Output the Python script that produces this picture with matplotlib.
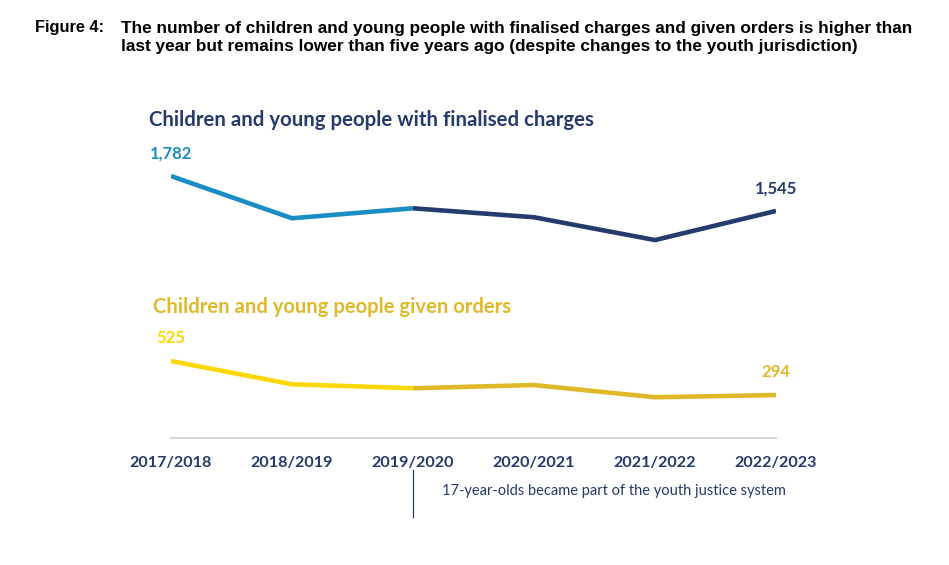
import matplotlib.pyplot as plt

years = ['2017/2018', '2018/2019', '2019/2020', '2020/2021', '2021/2022', '2022/2023']
charges = [1782, 1495, 1563, 1502, 1347, 1545]
orders = [525, 367, 340, 362, 279, 294]

W, H = 949, 565
fig = plt.figure(figsize=(W / 100, H / 100), dpi=100)

# axes placed so that x=0..5 spans 171..776 px and y=0 sits on the grey baseline
y0_px, px_per_unit = 438.3, 1 / 6.795
ymax = 2000
ax = fig.add_axes([171 / W, (H - y0_px) / H, 605 / W, ymax * px_per_unit / H])
ax.set_xlim(0, 5)
ax.set_ylim(0, ymax)

light_blue, navy = '#1a8ec4', '#253a6d'
yellow, gold = '#fdd800', '#e0b92b'
x = list(range(len(years)))

ax.plot(x[:3], charges[:3], color=light_blue, lw=3.3, solid_capstyle='butt', solid_joinstyle='round')
ax.plot(x[2:], charges[2:], color=navy, lw=3.3, solid_capstyle='butt', solid_joinstyle='round')
ax.plot(x[:3], orders[:3], color=yellow, lw=3.3, solid_capstyle='butt', solid_joinstyle='round')
ax.plot(x[2:], orders[2:], color=gold, lw=3.3, solid_capstyle='butt', solid_joinstyle='round')

for s in ['top', 'right', 'left']:
    ax.spines[s].set_visible(False)
ax.spines['bottom'].set_color('#d4d4d4')
ax.spines['bottom'].set_linewidth(1.5)
ax.set_yticks([])
ax.set_xticks(x)
ax.set_xticklabels(years, fontfamily='Lato', fontweight='bold', fontsize=11.6, color=navy)
ax.tick_params(axis='x', length=0, pad=13)

lbl = dict(fontfamily='Lato', fontweight='bold', fontsize=12)
ax.text(0, charges[0] + 100, f'{charges[0]:,}', color=light_blue, ha='center', va='bottom', **lbl)
ax.text(5, charges[-1] + 100, f'{charges[-1]:,}', color=navy, ha='center', va='bottom', **lbl)
ax.text(0, orders[0] + 100, f'{orders[0]:,}', color=yellow, ha='center', va='bottom', **lbl)
ax.text(5, orders[-1] + 100, f'{orders[-1]:,}', color=gold, ha='center', va='bottom', **lbl)

ax.text(-0.18, 2165, 'Children and young people with finalised charges', color=navy,
        fontfamily='Lato', fontweight='bold', fontsize=14.7, va='center', clip_on=False)
ax.text(-0.15, 890, 'Children and young people given orders', color=gold,
        fontfamily='Lato', fontweight='bold', fontsize=14.6, va='center')

# marker for the change in youth jurisdiction
ax.plot([2, 2], [-215, -535], color=navy, lw=0.9, clip_on=False)
ax.text(2.24, -358, '17-year-olds became part of the youth justice system', color=navy,
        fontfamily='Lato', fontsize=10.5, va='center')

fig.text(35 / W, 1 - 27.5 / H, 'Figure 4:', fontfamily='Liberation Sans', fontweight='bold',
         fontsize=11.8, va='center')
fig.text(121 / W, 1 - 37.5 / H,
         'The number of children and young people with finalised charges and given orders is higher than\n'
         'last year but remains lower than five years ago (despite changes to the youth jurisdiction)',
         fontfamily='Liberation Sans', fontweight='bold', fontsize=12.4, va='center', linespacing=1.32)

fig.savefig('out.png', dpi=100)
